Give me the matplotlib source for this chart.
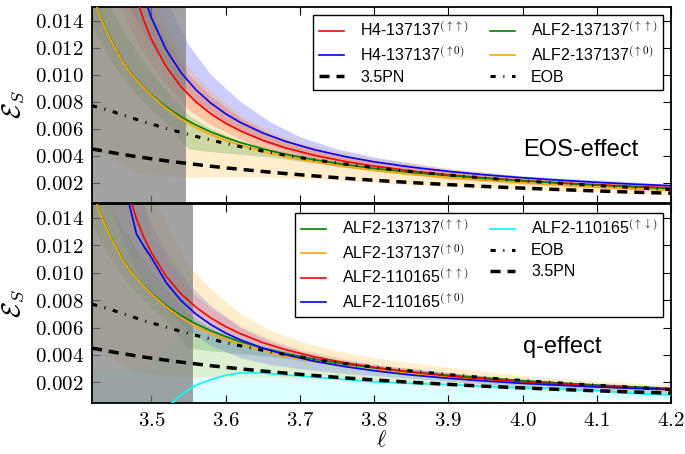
"""Binding energy curves E_S(l) for the EOS and mass-ratio comparisons."""

import matplotlib

matplotlib.use("Agg")
import matplotlib.pyplot as plt
import numpy as np
from matplotlib.ticker import FuncFormatter, MultipleLocator

plt.rcParams["font.family"] = ["Liberation Sans", "DejaVu Sans"]
plt.rcParams["mathtext.fontset"] = "cm"

# sampling of the curves in the orbital parameter ell
ell = [3.42, 3.43, 3.44, 3.45, 3.46, 3.47, 3.48, 3.49, 3.50, 3.52, 3.54, 3.56, 3.58, 3.60,
       3.62, 3.65, 3.68, 3.72, 3.76, 3.80, 3.85, 3.90, 3.95, 4.00, 4.05, 4.10, 4.15, 4.20]

# analytic references (same in both panels)
eob = [0.0077, 0.00755, 0.0074, 0.00722, 0.00704, 0.00686, 0.00668, 0.0065, 0.00634, 0.00602,
       0.00572, 0.00543, 0.00516, 0.0049, 0.00467, 0.00434, 0.00404, 0.00369, 0.00338, 0.00312,
       0.00283, 0.00257, 0.00234, 0.00214, 0.00196, 0.00179, 0.00164, 0.00148]
pn35 = [0.0045, 0.0044, 0.0043, 0.0042, 0.00411, 0.00402, 0.00393, 0.00385, 0.00377, 0.00362,
        0.00348, 0.00335, 0.00322, 0.0031, 0.00299, 0.00283, 0.00268, 0.0025, 0.00233, 0.00218,
        0.00201, 0.00186, 0.00172, 0.0016, 0.00149, 0.00139, 0.0013, 0.00122]

# ALF2 q=1 runs (both panels)
alf2_uu = [0.0162, 0.0145, 0.0132, 0.0121, 0.0111, 0.0103, 0.00965, 0.00904, 0.0085, 0.0076,
           0.00687, 0.00627, 0.00576, 0.00534, 0.00497, 0.0045, 0.00411, 0.00369, 0.00335,
           0.00306, 0.00276, 0.00252, 0.00232, 0.00213, 0.00196, 0.00181, 0.00168, 0.00157]
alf2_u0 = [0.01615, 0.01445, 0.01315, 0.01205, 0.01105, 0.01025, 0.0096, 0.009, 0.00845, 0.0075,
           0.00672, 0.00607, 0.00556, 0.00514, 0.00477, 0.0043, 0.00391, 0.00352, 0.00319,
           0.0029, 0.00261, 0.00237, 0.00218, 0.002, 0.00183, 0.00168, 0.00155, 0.00145]

# H4 q=1 runs (top panel)
h4_uu = [0.0565, 0.0394, 0.0302, 0.02453, 0.02063, 0.01781, 0.01566, 0.01398, 0.01262, 0.01057,
         0.00909, 0.00798, 0.0071, 0.0064, 0.00583, 0.00514, 0.00459, 0.00402, 0.00358, 0.00323,
         0.00287, 0.00258, 0.00235, 0.00216, 0.00199, 0.00185, 0.00173, 0.00162]
h4_u0 = [0.071, 0.0473, 0.0355, 0.0284, 0.02367, 0.02029, 0.01775, 0.01578, 0.0142, 0.01183,
         0.01014, 0.008875, 0.00789, 0.0071, 0.006455, 0.00568, 0.005071, 0.004438, 0.003944,
         0.00355, 0.003156, 0.00284, 0.002582, 0.002367, 0.002185, 0.002029, 0.001893, 0.001775]

# ALF2 q!=1 runs (bottom panel)
q_uu = [0.0424, 0.031, 0.0247, 0.0206, 0.0177, 0.0156, 0.0139, 0.01255, 0.01145, 0.00972,
        0.00846, 0.00748, 0.0067, 0.00607, 0.00555, 0.0049, 0.0044, 0.00386, 0.00344, 0.0031,
        0.00275, 0.00247, 0.00224, 0.00204, 0.00188, 0.00174, 0.00162, 0.0015]
q_u0 = [0.0551, 0.0368, 0.0276, 0.0221, 0.0185, 0.015, 0.0128, 0.0119, 0.0111, 0.00927,
        0.00796, 0.00698, 0.00621, 0.0056, 0.0051, 0.0045, 0.00403, 0.00354, 0.00316, 0.00285,
        0.00254, 0.0023, 0.0021, 0.00193, 0.00179, 0.00167, 0.00157, 0.00148]
q_ud = [np.nan, np.nan, np.nan, np.nan, np.nan, np.nan, np.nan, np.nan, -0.0012, 0.0001,
        0.0011, 0.0018, 0.0022, 0.00252, 0.0027, 0.0027, 0.00255, 0.00238, 0.00222, 0.00205,
        0.00193, 0.00185, 0.00172, 0.0016, 0.00153, 0.0014, 0.0012, 0.00108]

# error bands, on a coarser sampling
ell_band = [3.42, 3.44, 3.46, 3.48, 3.50, 3.52, 3.55, 3.58, 3.62, 3.66, 3.70, 3.75, 3.80, 3.90,
            4.00, 4.10, 4.20]
alf2_uu_lo = [0.0135, 0.0115, 0.0098, 0.0085, 0.0074, 0.0064, 0.0045, 0.0043, 0.0041, 0.0039,
              0.0036, 0.0033, 0.0029, 0.0024, 0.0020, 0.0017, 0.0014]
alf2_uu_hi = [0.0180, 0.0155, 0.0134, 0.0117, 0.0102, 0.0088, 0.0070, 0.0060, 0.0051, 0.0045,
              0.0041, 0.0036, 0.0032, 0.0027, 0.0022, 0.0019, 0.0016]
alf2_u0_lo = [0.0048, 0.0040, 0.0033, 0.0028, 0.0026, 0.0025, 0.0024, 0.0024, 0.0024, 0.0024,
              0.0023, 0.0022, 0.0020, 0.0017, 0.0015, 0.0013, 0.0011]
alf2_u0_hi = [0.0300, 0.0250, 0.0210, 0.0185, 0.0160, 0.0135, 0.0105, 0.0088, 0.0070, 0.0058,
              0.0050, 0.0043, 0.0038, 0.0031, 0.0025, 0.0021, 0.0018]
h4_uu_lo = [0.0220, 0.0180, 0.0150, 0.0125, 0.0107, 0.0093, 0.0074, 0.0063, 0.0052, 0.0043,
            0.0037, 0.0032, 0.0029, 0.0023, 0.0019, 0.0016, 0.0014]
h4_uu_hi = [0.0320, 0.0260, 0.0210, 0.0175, 0.0148, 0.0126, 0.0100, 0.0084, 0.0068, 0.0056,
            0.0048, 0.0041, 0.0036, 0.0029, 0.0024, 0.0020, 0.0018]
h4_u0_lo = [0.0200, 0.0180, 0.0160, 0.0140, 0.0122, 0.0105, 0.0084, 0.0071, 0.0058, 0.0048,
            0.0041, 0.0036, 0.0032, 0.0026, 0.0022, 0.0019, 0.0017]
h4_u0_hi = [0.0300, 0.0270, 0.0240, 0.0210, 0.0180, 0.0155, 0.0122, 0.0100, 0.0080, 0.0065,
            0.0054, 0.0045, 0.0039, 0.0030, 0.0025, 0.0022, 0.0019]
q_uu_lo = [0.0300, 0.0220, 0.0170, 0.0130, 0.0105, 0.0090, 0.0072, 0.0061, 0.0050, 0.0042,
           0.0037, 0.0033, 0.0029, 0.0024, 0.0019, 0.0016, 0.0014]
q_uu_hi = [0.0450, 0.0320, 0.0240, 0.0165, 0.0128, 0.0110, 0.0088, 0.0074, 0.0061, 0.0051,
           0.0044, 0.0038, 0.0033, 0.0027, 0.0022, 0.0019, 0.0016]
q_u0_lo = [0.0200, 0.0160, 0.0125, 0.0100, 0.0085, 0.0073, 0.0058, 0.0047, 0.0038, 0.0033,
           0.0030, 0.0027, 0.0025, 0.0021, 0.0017, 0.0014, 0.0012]
q_u0_hi = [0.0320, 0.0260, 0.0205, 0.0165, 0.0135, 0.0115, 0.0092, 0.0076, 0.0060, 0.0050,
           0.0043, 0.0037, 0.0033, 0.0027, 0.0022, 0.0019, 0.0016]
q_ud_lo = [0.0000, 0.0000, 0.0000, 0.0000, 0.0000, 0.0000, 0.0000, 0.0000, 0.0000, 0.0001,
           0.0003, 0.0004, 0.0005, 0.0006, 0.0007, 0.0008, 0.0008]
q_ud_hi = [0.0030, 0.0030, 0.0030, 0.0030, 0.0035, 0.0045, 0.0060, 0.0055, 0.0050, 0.0045,
           0.0040, 0.0035, 0.0031, 0.0025, 0.0021, 0.0018, 0.0015]

# end of the region excluded from the fits, per panel
cut_eos = 3.547
cut_q = 3.556

EOB_DASH = (0, (1.7, 2.5, 0.35, 2.5))
PN_DASH = (0, (2.9, 2.0))
LEGEND_KW = dict(loc="upper right", borderaxespad=0, ncol=2, fontsize=11.5,
                 handlelength=1.6, handletextpad=1.0, columnspacing=1.3,
                 labelspacing=0.38, borderpad=0.35, fancybox=False,
                 edgecolor="k", framealpha=1)


def style_axes(ax):
    ax.set_xlim(3.42, 4.2)
    ax.set_ylim(0.0005, 0.015)
    ax.xaxis.set_major_locator(MultipleLocator(0.1))
    ax.yaxis.set_major_locator(MultipleLocator(0.002))
    ax.yaxis.set_major_formatter(FuncFormatter(lambda v, p: f"${v:.3f}$"))
    ax.xaxis.set_major_formatter(FuncFormatter(lambda v, p: f"${v:.1f}$"))
    ax.tick_params(direction="in", top=True, right=True, length=6, width=0.8,
                   labelsize=15, pad=6)
    for spine in ax.spines.values():
        spine.set_linewidth(1.3)
    ax.set_ylabel(r"$\mathcal{E}_S$", fontsize=19, labelpad=6)


def band(ax, lo, hi, color, alpha=0.2):
    ax.fill_between(ell_band, lo, hi, color=color, alpha=alpha, lw=0, zorder=1)


def line(ax, y, color, label):
    ax.plot(ell, y, color=color, lw=1.2, label=label, zorder=4)


def references(ax, pn_first):
    pn = dict(color="k", lw=2.5, ls=PN_DASH, label="3.5PN", zorder=5)
    eo = dict(color="k", lw=2.2, ls=EOB_DASH, label="EOB", zorder=5)
    for ys, kw in ([(pn35, pn), (eob, eo)] if pn_first else [(eob, eo), (pn35, pn)]):
        ax.plot(ell, ys, **kw)


fig = plt.figure(figsize=(6.85, 4.54), dpi=100)
ax1 = fig.add_axes([0.1343, 0.5529, 0.8453, 0.4317])
ax2 = fig.add_axes([0.1343, 0.1123, 0.8453, 0.4384])

# --- EOS effect ---
band(ax1, h4_u0_lo, h4_u0_hi, "blue")
band(ax1, h4_uu_lo, h4_uu_hi, "red")
band(ax1, alf2_u0_lo, alf2_u0_hi, "orange")
band(ax1, alf2_uu_lo, alf2_uu_hi, "green")
ax1.axvspan(3.42, cut_eos, color="gray", alpha=0.72, lw=0, zorder=2)

line(ax1, h4_uu, "red", r"H4-137137$^{(\uparrow\uparrow)}$")
line(ax1, h4_u0, "blue", r"H4-137137$^{(\uparrow0)}$")
h, l = ax1.get_legend_handles_labels()
references(ax1, pn_first=True)
line(ax1, alf2_uu, "green", r"ALF2-137137$^{(\uparrow\uparrow)}$")
line(ax1, alf2_u0, "orange", r"ALF2-137137$^{(\uparrow0)}$")
h, l = ax1.get_legend_handles_labels()
order = [0, 1, 2, 4, 5, 3]
ax1.legend([h[i] for i in order], [l[i] for i in order],
           bbox_to_anchor=(0.986, 0.959), **LEGEND_KW).get_frame().set_linewidth(1.0)
ax1.text(0.744, 0.27, "EOS-effect", transform=ax1.transAxes, fontsize=17,
         va="center", ha="left")
style_axes(ax1)
ax1.tick_params(labelbottom=False)

# --- mass-ratio effect ---
band(ax2, alf2_u0_lo, alf2_u0_hi, "orange")
band(ax2, q_ud_lo, q_ud_hi, "cyan", alpha=0.13)
band(ax2, alf2_uu_lo, alf2_uu_hi, "green", alpha=0.18)
band(ax2, q_u0_lo, q_u0_hi, "blue", alpha=0.15)
band(ax2, q_uu_lo, q_uu_hi, "red", alpha=0.1)
ax2.axvspan(3.42, cut_q, color="gray", alpha=0.72, lw=0, zorder=2)

line(ax2, alf2_uu, "green", r"ALF2-137137$^{(\uparrow\uparrow)}$")
line(ax2, alf2_u0, "orange", r"ALF2-137137$^{(\uparrow0)}$")
line(ax2, q_uu, "red", r"ALF2-110165$^{(\uparrow\uparrow)}$")
line(ax2, q_u0, "blue", r"ALF2-110165$^{(\uparrow0)}$")
line(ax2, q_ud, "cyan", r"ALF2-110165$^{(\uparrow\downarrow)}$")
references(ax2, pn_first=False)

h, l = ax2.get_legend_handles_labels()
# pad the second column so the first one holds four rows
h.append(plt.Line2D([], [], color="none"))
l.append("")
ax2.legend(h, l, bbox_to_anchor=(0.986, 0.954), **LEGEND_KW).get_frame().set_linewidth(1.0)
ax2.text(0.744, 0.28, "q-effect", transform=ax2.transAxes, fontsize=17,
         va="center", ha="left")
style_axes(ax2)
ax2.set_xlabel(r"$\ell$", fontsize=16, labelpad=0)

fig.align_ylabels([ax1, ax2])
fig.savefig("out.png", dpi=100)
